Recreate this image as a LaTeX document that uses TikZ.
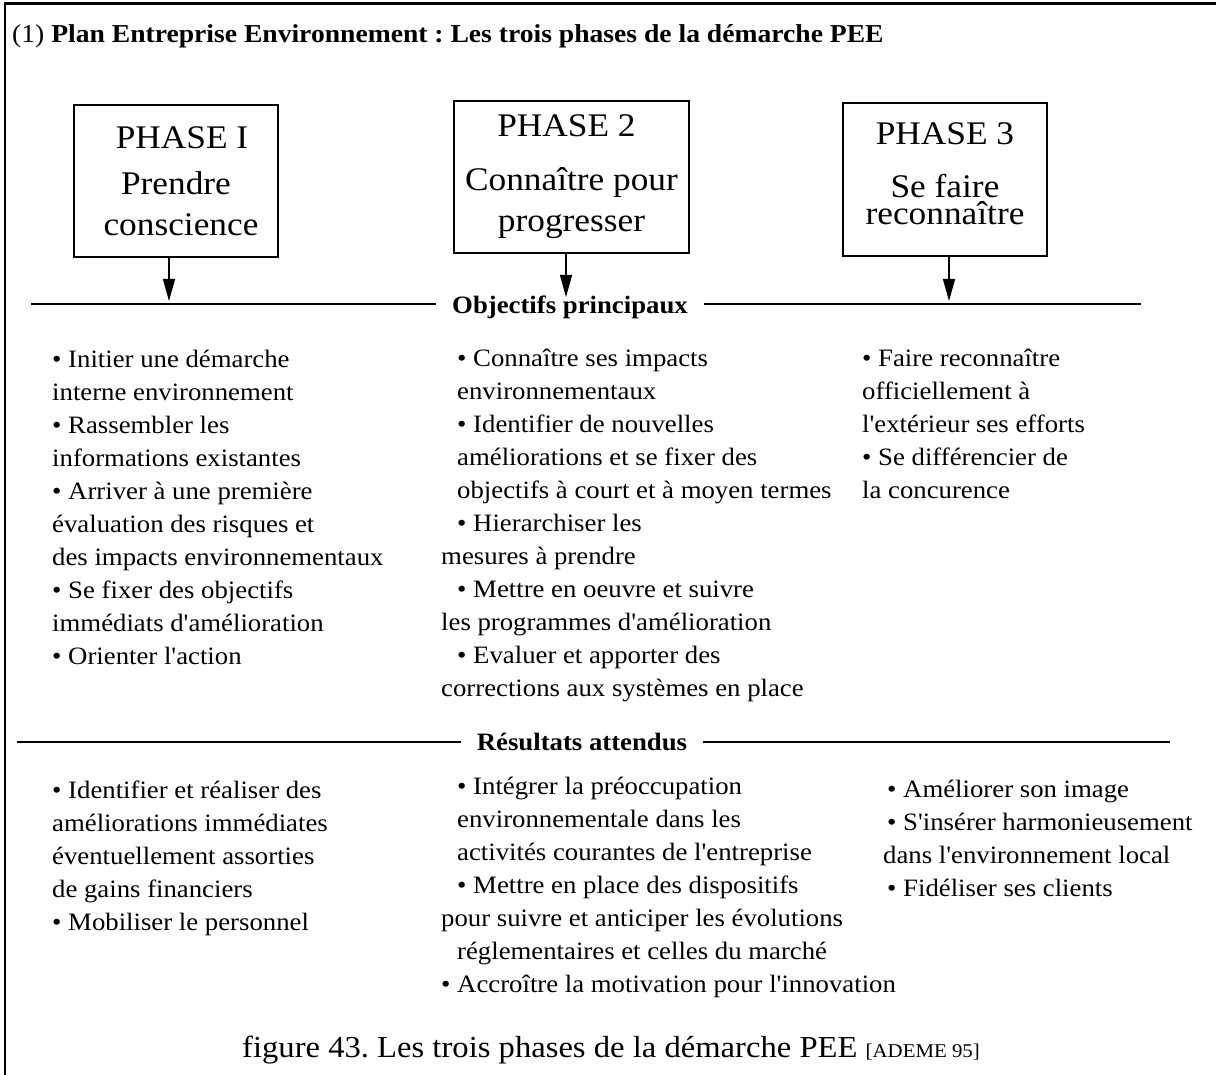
\documentclass[tikz,border=0pt]{standalone}
\usepackage{fontspec}
\setmainfont{Liberation Serif}[FakeStretch=1.07, Ligatures=TeXOff]
\usetikzlibrary{positioning, arrows.meta}

\newcommand{\ind}{\hspace*{16pt}}
\frenchspacing

\begin{document}
\begin{tikzpicture}[x=1pt, y=-1pt,
    phase/.style={draw, line width=1.5pt, inner sep=0pt, align=center,
                  font=\fontsize{33}{40}\selectfont},
    flow/.style={line width=1.2pt, -{Triangle[length=22pt, width=12pt]}},
    heading/.style={font=\bfseries\fontsize{25}{30}\selectfont, inner xsep=16pt},
    rulebar/.style={line width=1.5pt},
    items/.style={anchor=north west, inner sep=0pt, align=left,
                  font=\fontsize{25}{33}\selectfont}]
\useasboundingbox (0,0) rectangle (1216,1075);

% frame
\coordinate (fb) at (5,1075);
\coordinate (fc) at (5,3.5);
\coordinate (fr) at (1216,3.5);
\draw[line width=2.5pt] (fb) -- (fc) -- (fr);

% title
\node[anchor=base west, inner sep=0pt, font=\fontsize{25.8}{30}\selectfont] (title) at (12,43)
  {(1) \textbf{Plan Entreprise Environnement : Les trois phases de la démarche PEE}};

% the three phases
\node[phase, minimum width=204pt, minimum height=152pt] (p1) at (176,181)
  {\hspace*{12pt}PHASE I\\[6pt]Prendre\\[1pt]\hspace*{10pt}conscience};
\node[phase, minimum width=235pt, minimum height=152pt] (p2) at (571.5,177)
  {PHASE 2\hspace*{10pt}\\[14pt]Connaître pour\\[1pt]progresser};
\node[phase, minimum width=204pt, minimum height=153pt, text depth=12pt] (p3) at (945,179.5)
  {PHASE 3\\[13pt]Se faire\\[-13pt]reconnaître};

\coordinate (a1) at (169,301);
\coordinate (a2) at (566,297);
\coordinate (a3) at (949,301);
\draw[flow] (p1.south -| a1) -- (a1);
\draw[flow] (p2.south -| a2) -- (a2);
\draw[flow] (p3.south -| a3) -- (a3);

% objectifs
\node[heading, anchor=base] (obj) at (570,314) {Objectifs principaux};
\coordinate (objl) at (31,304);
\coordinate (objr) at (1141,304);
\draw[rulebar] (objl) -- (objl -| obj.west);
\draw[rulebar] (obj.east |- objr) -- (objr);

\node[items] (obj1) at (52,350)
  {• Initier une démarche\\interne environnement\\• Rassembler les\\informations existantes\\%
   • Arriver à une première\\évaluation des risques et\\des impacts environnementaux\\%
   • Se fixer des objectifs\\immédiats d'amélioration\\• Orienter l'action};
\node[items] (obj2) at (441,349)
  {\ind• Connaître ses impacts\\\ind environnementaux\\\ind• Identifier de nouvelles\\%
   \ind améliorations et se fixer des\\\ind objectifs à court et à moyen termes\\%
   \ind• Hierarchiser les\\mesures à prendre\\\ind• Mettre en oeuvre et suivre\\%
   les programmes d'amélioration\\\ind• Evaluer et apporter des\\corrections aux systèmes en place};
\node[items] (obj3) at (862,349)
  {• Faire reconnaître\\officiellement à\\l'extérieur ses efforts\\• Se différencier de\\la concurence};

% resultats
\node[heading, anchor=base] (res) at (582,750) {Résultats attendus};
\coordinate (resl) at (17,742);
\coordinate (resr) at (1170,742);
\draw[rulebar] (resl) -- (resl -| res.west);
\draw[rulebar] (res.east |- resr) -- (resr);

\node[items] (res1) at (52,781)
  {• Identifier et réaliser des\\améliorations immédiates\\éventuellement assorties\\%
   de gains financiers\\• Mobiliser le personnel};
\node[items] (res2) at (441,777)
  {\ind• Intégrer la préoccupation\\\ind environnementale dans les\\%
   \ind activités courantes de l'entreprise\\\ind• Mettre en place des dispositifs\\%
   pour suivre et anticiper les évolutions\\\ind réglementaires et celles du marché\\%
   • Accroître la motivation pour l'innovation};
\node[items] (res3) at (883,780)
  {\hspace*{4pt}• Améliorer son image\\\hspace*{4pt}• S'insérer harmonieusement\\%
   dans l'environnement local\\\hspace*{4pt}• Fidéliser ses clients};

% caption
\node[anchor=base west, inner sep=0pt, font=\fontsize{30.5}{34}\selectfont] (caption) at (242,1057)
  {figure 43. Les trois phases de la démarche PEE {\fontsize{19.5}{24}\selectfont[ADEME 95]}};
\end{tikzpicture}
\end{document}
